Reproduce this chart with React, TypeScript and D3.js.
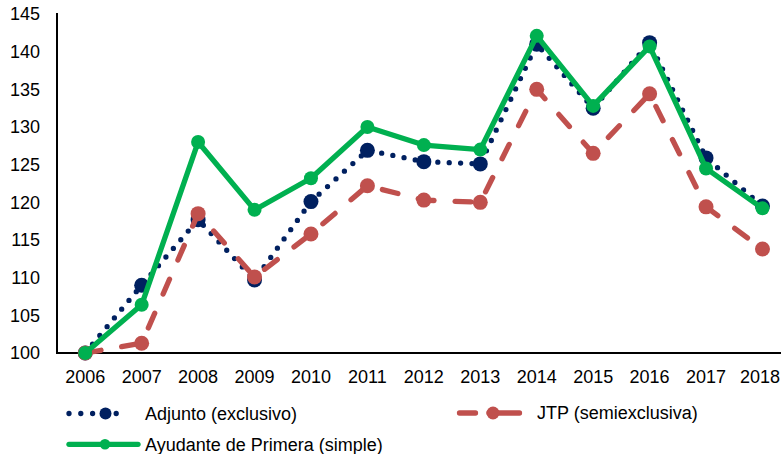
import React from "react";
import * as d3 from "d3";

const years = ["2006","2007","2008","2009","2010","2011","2012","2013","2014","2015","2016","2017","2018"];
const adjunto = [100, 109.0, 117.7, 109.7, 120.1, 126.9, 125.4, 125.1, 141.0, 132.5, 141.2, 125.9, 119.5];
const jtp = [100, 101.3, 118.5, 110.1, 115.8, 122.2, 120.3, 120.0, 135.0, 126.5, 134.4, 119.4, 113.8];
const ayudante = [100, 106.4, 128.0, 119.0, 123.2, 130.0, 127.6, 127.0, 142.1, 132.8, 140.7, 124.5, 119.2];
const yTicks = [100, 105, 110, 115, 120, 125, 130, 135, 140, 145];
const seriesNames = ["Adjunto (exclusivo)", "JTP (semiexclusiva)", "Ayudante de Primera (simple)"];

const W = 781, H = 454;
const NAVY = "#002060", RED = "#C0504D", GREEN = "#00B050";
const FONT = "'Liberation Sans', Arial, Helvetica, sans-serif";

export default function App() {
  const x = d3.scalePoint<string>().domain(years).range([57, 790.7]).padding(0.5);
  const y = d3.scaleLinear().domain([100, 145]).range([353, 14]);
  const line = d3.line<number>().x((_, i) => x(years[i]) as number).y(d => y(d));

  const series = [
    { vals: adjunto, color: NAVY, dash: "0 11.4", r: 7.5, w: 5.3 },
    { vals: jtp, color: RED, dash: "16 21", r: 7.5, w: 5.3 },
    { vals: ayudante, color: GREEN, dash: undefined, r: 7, w: 5.3 },
  ];

  return (
    <svg width={W} height={H} style={{ position: "absolute", left: 0, top: 0 }}>
      <rect width={W} height={H} fill="#fff" />
      {yTicks.map(t => (
        <text key={t} x={40} y={y(t)} dy="0.35em" textAnchor="end" fontSize={18} fontFamily={FONT} fill="#000">{t}</text>
      ))}
      {years.map(yr => (
        <text key={yr} x={Math.min(x(yr) as number, W - 21)} y={382.5} textAnchor="middle" fontSize={18} fontFamily={FONT} fill="#000">{yr}</text>
      ))}
      <line x1={57} x2={57} y1={13} y2={354} stroke="#000" strokeWidth={2} />
      <line x1={56} x2={W} y1={353} y2={353} stroke="#000" strokeWidth={2} />
      {series.map((s, si) => (
        <g key={si}>
          <path d={line(s.vals) || ""} fill="none" stroke={s.color} strokeWidth={s.w}
            strokeDasharray={s.dash} strokeLinecap="round" strokeLinejoin="round" />
          {s.vals.map((v, i) => (
            <circle key={i} cx={x(years[i])} cy={y(v)} r={s.r} fill={s.color} />
          ))}
        </g>
      ))}
      {/* legend */}
      <g>
        <line x1={69} x2={128} y1={413.5} y2={413.5} stroke={NAVY} strokeWidth={5.3} strokeDasharray="0 11.8" strokeLinecap="round" />
        <circle cx={105.5} cy={413.5} r={6} fill={NAVY} />
        <text x={145} y={413.5} dy="0.35em" fontSize={18} fontFamily={FONT} fill="#000">{seriesNames[0]}</text>

        <line x1={459.5} x2={475.5} y1={413} y2={413} stroke={RED} strokeWidth={5.3} strokeLinecap="round" />
        <line x1={489} x2={519.5} y1={413} y2={413} stroke={RED} strokeWidth={5.3} strokeLinecap="round" />
        <circle cx={493} cy={413} r={6.5} fill={RED} />
        <text x={537} y={413} dy="0.35em" fontSize={18} fontFamily={FONT} fill="#000">{seriesNames[1]}</text>

        <line x1={69} x2={138} y1={444.3} y2={444.3} stroke={GREEN} strokeWidth={5.3} strokeLinecap="round" />
        <circle cx={105} cy={444.3} r={5.3} fill={GREEN} />
        <text x={145} y={444.3} dy="0.35em" fontSize={18} fontFamily={FONT} fill="#000">{seriesNames[2]}</text>
      </g>
    </svg>
  );
}
